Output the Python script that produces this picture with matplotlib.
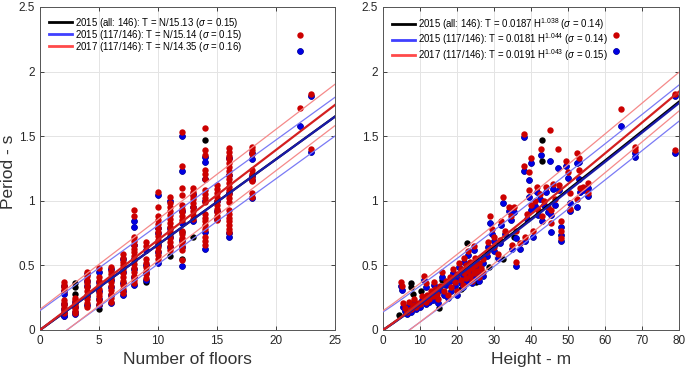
import numpy as np
import matplotlib
matplotlib.use("Agg")
import matplotlib.pyplot as plt
from matplotlib.lines import Line2D

plt.rcParams['font.family'] = ['Liberation Sans', 'DejaVu Sans']
plt.rcParams['mathtext.fontset'] = 'custom'
plt.rcParams['mathtext.rm'] = 'Liberation Sans'
plt.rcParams['mathtext.it'] = 'Liberation Sans:italic'

# ---- left panel: period vs number of floors ----
floors = [2, 3, 4, 5, 6, 7, 8, 9, 10, 11, 12, 13, 14, 15, 16, 18, 22, 23]
# 2017 measurements (117 buildings)
t17_floors = [
    [0.37, 0.35, 0.33, 0.31, 0.23, 0.21, 0.19, 0.17, 0.15, 0.13],
    [0.25, 0.23, 0.21, 0.19, 0.17, 0.15, 0.13],
    [0.45, 0.42, 0.39, 0.36, 0.33, 0.30, 0.27, 0.24, 0.21, 0.18],
    [0.48, 0.41, 0.38, 0.35, 0.32, 0.29, 0.26, 0.23, 0.20],
    [0.49, 0.46, 0.43, 0.40, 0.37, 0.34, 0.31, 0.28, 0.25, 0.22],
    [0.59, 0.56, 0.53, 0.50, 0.47, 0.44, 0.41, 0.38, 0.35, 0.32, 0.29],
    [0.93, 0.88, 0.72, 0.69, 0.66, 0.63, 0.60, 0.57, 0.54, 0.51, 0.48,
     0.45, 0.42, 0.39, 0.36],
    [0.68, 0.65, 0.55, 0.52, 0.49, 0.46, 0.43, 0.40],
    [1.07, 0.95, 0.88, 0.85, 0.82, 0.79, 0.76, 0.73, 0.70, 0.67, 0.64,
     0.61, 0.58, 0.55],
    [1.03, 0.98, 0.95, 0.92, 0.89, 0.86, 0.83, 0.80, 0.77, 0.74, 0.71,
     0.68, 0.65, 0.62],
    [1.535, 1.27, 1.10, 1.045, 0.97, 0.94, 0.91, 0.88, 0.85, 0.77, 0.74,
     0.71, 0.68, 0.65, 0.62, 0.54],
    [1.10, 1.07, 1.04, 1.01, 0.98, 0.95, 0.92, 0.89, 0.86],
    [1.56, 1.39, 1.355, 1.24, 1.21, 1.17, 1.08, 1.05, 1.02, 0.99, 0.90,
     0.87, 0.84, 0.81, 0.78, 0.72, 0.69, 0.66],
    [1.12, 1.09, 1.06, 1.03, 1.00, 0.97, 0.94, 0.91, 0.88, 0.85],
    [1.41, 1.38, 1.35, 1.32, 1.29, 1.26, 1.23, 1.20, 1.17, 1.14, 1.11,
     1.08, 1.05, 1.02, 0.99, 0.93, 0.90, 0.87, 0.84, 0.81, 0.78, 0.76],
    [1.42, 1.39, 1.36, 1.24, 1.21, 1.18, 1.15, 1.06, 1.03],
    [2.28, 1.72],
    [1.83, 1.40],
]
# 2015 measurements (same 117 buildings)
t15_floors = [
    [0.34, 0.30, 0.28, 0.20, 0.16, 0.13, 0.11],
    [0.22, 0.18, 0.14, 0.12],
    [0.43, 0.38, 0.34, 0.26, 0.19],
    [0.45, 0.37, 0.30, 0.24, 0.19],
    [0.47, 0.39, 0.33, 0.27, 0.21],
    [0.55, 0.45, 0.36, 0.30, 0.27],
    [0.84, 0.80, 0.66, 0.55, 0.47, 0.41, 0.35],
    [0.62, 0.50, 0.44, 0.39],
    [1.045, 0.79, 0.75, 0.66, 0.60, 0.52],
    [1.00, 0.79, 0.72, 0.64],
    [1.50, 1.23, 0.92, 0.83, 0.70, 0.645, 0.495],
    [1.05, 0.955, 0.84],
    [1.34, 1.30, 1.165, 1.00, 0.76, 0.63],
    [1.00, 0.92, 0.86],
    [1.33, 1.20, 1.06, 0.75, 0.72],
    [1.37, 1.32, 1.19, 1.16, 1.02],
    [2.16, 1.58],
    [1.81, 1.38],
]
# 2015 buildings outside the 117 subset (shown only in the "all" set)
t15_extra_floors = [
    [0.105], [0.36, 0.335, 0.28], [], [0.165], [], [], [], [0.37], [],
    [0.57], [0.76, 0.55], [0.72], [1.47], [], [], [], [], [],
]

# ---- right panel: period vs height ----
h_sub = [5.0, 5.2, 5.5, 6.0, 6.5, 7.0, 7.5, 8.0, 8.5, 9.0, 9.5, 10.0, 10.5,
         11.0, 11.5, 11.5, 12.0, 12.5, 13.0, 13.5, 13.8, 14.0, 14.5, 15.0,
         15.5, 16.0, 16.5, 17.0, 17.5, 18.0, 18.5, 19.0, 19.5, 20.0, 20.0,
         20.5, 21.0, 21.0, 21.5, 22.0, 22.0, 22.5, 22.5, 23.0, 23.0, 23.5,
         23.5, 24.0, 24.0, 24.5, 24.5, 25.0, 25.0, 25.5, 26.0, 26.0, 26.5,
         27.0, 27.0, 28.0, 28.5, 29.0, 29.5, 30.0, 30.0, 31.0, 31.5, 32.0,
         32.5, 33.0, 34.0, 34.5, 35.0, 35.5, 36.0, 36.0, 37.0, 38.0, 38.0,
         38.5, 39.0, 39.5, 39.5, 40.0, 40.0, 40.5, 41.0, 41.5, 42.0, 42.5,
         42.8, 43.0, 43.5, 44.0, 44.5, 45.1, 45.5, 45.5, 46.0, 46.5, 47.2,
         47.5, 48.0, 48.0, 48.0, 49.5, 50.0, 50.5, 50.5, 52.5, 53.0, 53.0,
         53.2, 52.5, 54.0, 55.5, 55.5, 63.0, 64.4, 68.0, 68.0, 79.0, 79.0]
t17_h = [0.37, 0.34, 0.21, 0.17, 0.14, 0.22, 0.16, 0.19, 0.24, 0.18, 0.21,
         0.20, 0.26, 0.42, 0.36, 0.22, 0.27, 0.24, 0.30, 0.26, 0.37, 0.32,
         0.28, 0.24, 0.34, 0.45, 0.30, 0.38, 0.27, 0.41, 0.33, 0.47, 0.37,
         0.30, 0.43, 0.52, 0.39, 0.47, 0.35, 0.44, 0.56, 0.50, 0.40, 0.46,
         0.61, 0.42, 0.53, 0.48, 0.38, 0.65, 0.44, 0.50, 0.56, 0.46, 0.52,
         0.41, 0.48, 0.55, 0.45, 0.60, 0.68, 0.88, 0.78, 0.72, 0.64, 0.59,
         0.70, 0.84, 1.03, 0.77, 0.95, 0.88, 0.66, 0.95, 0.53, 0.77, 0.67,
         1.52, 1.27, 0.72, 0.90, 1.22, 1.08, 1.33, 0.97, 0.77, 1.00, 1.11,
         0.93, 1.05, 1.40, 0.88, 1.00, 1.11, 0.95, 1.55, 0.93, 0.83, 1.13,
         1.01, 1.40, 1.12, 0.84, 0.77, 0.71, 1.31, 1.22, 1.06, 0.94, 1.37,
         1.33, 1.24, 1.10, 1.01, 1.11, 1.14, 1.06, 2.28, 1.71, 1.42, 1.39,
         1.83, 1.39]
t15_h = [0.34, 0.31, 0.18, 0.15, 0.12, 0.19, 0.14, 0.17, 0.21, 0.16, 0.19,
         0.18, 0.23, 0.39, 0.33, 0.20, 0.24, 0.22, 0.27, 0.23, 0.35, 0.29,
         0.25, 0.21, 0.31, 0.41, 0.27, 0.35, 0.25, 0.38, 0.30, 0.44, 0.34,
         0.27, 0.40, 0.49, 0.36, 0.44, 0.33, 0.41, 0.53, 0.47, 0.37, 0.43,
         0.58, 0.39, 0.50, 0.45, 0.36, 0.62, 0.41, 0.47, 0.53, 0.43, 0.49,
         0.38, 0.45, 0.52, 0.42, 0.57, 0.64, 0.83, 0.74, 0.69, 0.61, 0.56,
         0.67, 0.81, 0.98, 0.74, 0.92, 0.85, 0.63, 0.91, 0.495, 0.71, 0.63,
         1.495, 1.23, 0.69, 0.86, 1.16, 1.03, 1.29, 0.93, 0.72, 0.96, 1.07,
         0.89, 1.01, 1.355, 0.84, 0.97, 1.07, 0.91, 1.31, 0.89, 0.76, 1.09,
         0.97, 1.25, 1.08, 0.80, 0.735, 0.69, 1.27, 1.18, 0.98, 0.92, 1.29,
         1.30, 1.17, 1.07, 0.955, 1.08, 1.10, 1.04, 2.16, 1.58, 1.37, 1.34,
         1.81, 1.37]
h_extra = [4.3, 7.6, 7.6, 8.0, 10.2, 15.1, 16.0, 21.0, 22.8, 25.1, 28.7,
           32.4, 35.5, 43.1, 43.1]
t15_extra_h = [0.116, 0.36, 0.335, 0.28, 0.30, 0.168, 0.39, 0.32, 0.676,
               0.374, 0.49, 0.547, 0.72, 1.47, 1.31]

# fitted models from the legend
fit_n = [15.13, 15.14, 14.35]
fit_a = [0.0187, 0.0181, 0.0191]
fit_b = [1.038, 1.044, 1.043]
sig_n = [0.15, 0.15, 0.16]
sig_h = [0.14, 0.14, 0.15]

c_dot = ['#000000', '#0000e0', '#cc0000']
c_mid = ['#000000', '#1a1aa8', '#d42020']
c_band = ['#000000', '#7a7af5', '#f58a8a']
c_leg = ['#000000', '#4040ff', '#ff4a4a']

fig = plt.figure(figsize=(6.85, 3.68), dpi=100)
ax1 = fig.add_axes([0.0584, 0.1033, 0.4307, 0.8777])
ax2 = fig.add_axes([0.5591, 0.1033, 0.4321, 0.8777])


def flat(groups):
    xs, ys = [], []
    for n, vals in zip(floors, groups):
        xs += [n] * len(vals)
        ys += vals
    return xs, ys


# left: scatter
xb1, yb1 = flat(t15_floors)
xb2, yb2 = flat(t15_extra_floors)
xr, yr = flat(t17_floors)
ms = 4.6
ax1.plot(xb1 + xb2, yb1 + yb2, 'o', color=c_dot[0], ms=ms, mew=0)
ax1.plot(xb1, yb1, 'o', color=c_dot[1], ms=ms, mew=0)
ax1.plot(xr, yr, 'o', color=c_dot[2], ms=ms, mew=0)

nn = np.linspace(0, 25, 200)
for i in range(3):
    mid = nn / fit_n[i]
    ax1.plot(nn, mid, color=c_mid[i], lw=1.6, zorder=4)
    if i > 0:
        ax1.plot(nn, mid + sig_n[i], color=c_band[i], lw=0.9, zorder=4)
        ax1.plot(nn, mid - sig_n[i], color=c_band[i], lw=0.9, zorder=4)

# right: scatter
ax2.plot(h_sub + h_extra, t15_h + t15_extra_h, 'o', color=c_dot[0], ms=ms, mew=0)
ax2.plot(h_sub, t15_h, 'o', color=c_dot[1], ms=ms, mew=0)
ax2.plot(h_sub, t17_h, 'o', color=c_dot[2], ms=ms, mew=0)

hh = np.linspace(0, 80, 300)
for i in range(3):
    mid = fit_a[i] * hh ** fit_b[i]
    ax2.plot(hh, mid, color=c_mid[i], lw=1.6, zorder=4)
    if i > 0:
        ax2.plot(hh, mid + sig_h[i], color=c_band[i], lw=0.9, zorder=4)
        ax2.plot(hh, mid - sig_h[i], color=c_band[i], lw=0.9, zorder=4)

labels_n = ['2015 (all: 146): T = N/15.13 ($\\sigma$ = 0.15)',
            '2015 (117/146): T = N/15.14 ($\\sigma$ = 0.15)',
            '2017 (117/146): T = N/14.35 ($\\sigma$ = 0.16)']
labels_h = ['2015 (all: 146): T = 0.0187 H$^{1.038}$ ($\\sigma$ = 0.14)',
            '2015 (117/146): T = 0.0181 H$^{1.044}$ ($\\sigma$ = 0.14)',
            '2017 (117/146): T = 0.0191 H$^{1.043}$ ($\\sigma$ = 0.15)']
handles = [Line2D([], [], color=c, lw=2) for c in c_leg]

for ax, xmax, step, labels, xlabel, lsp in [
        (ax1, 25, 5, labels_n, 'Number of floors', -0.22),
        (ax2, 80, 10, labels_h, 'Height - m', -0.02)]:
    ax.set_xlim(0, xmax)
    ax.set_ylim(0, 2.5)
    ax.set_xticks(np.arange(0, xmax + 1, step))
    ax.set_yticks([0, 0.5, 1, 1.5, 2, 2.5])
    ax.set_yticklabels(['0', '0.5', '1', '1.5', '2', '2.5'])
    ax.grid(True, color='#e4e4e4', lw=0.7)
    ax.set_axisbelow(True)
    ax.tick_params(direction='in', length=3, labelsize=8.5,
                   colors='#262626', width=0.6, top=True, right=True)
    for s in ax.spines.values():
        s.set_color('#555555')
        s.set_linewidth(0.7)
    ax.set_xlabel(xlabel, fontsize=12.5, color='#333333', labelpad=4)
    ax.legend(handles, labels, loc='upper left', frameon=False,
              fontsize=6.9, handlelength=2.4, handletextpad=0.3,
              labelspacing=lsp, borderaxespad=0.35,
              bbox_to_anchor=(0.005, 0.995))

ax1.set_ylabel('Period - s', fontsize=12.5, color='#333333')
ax1.yaxis.set_label_coords(-0.082, 0.49)

fig.savefig('out.png', dpi=100)
